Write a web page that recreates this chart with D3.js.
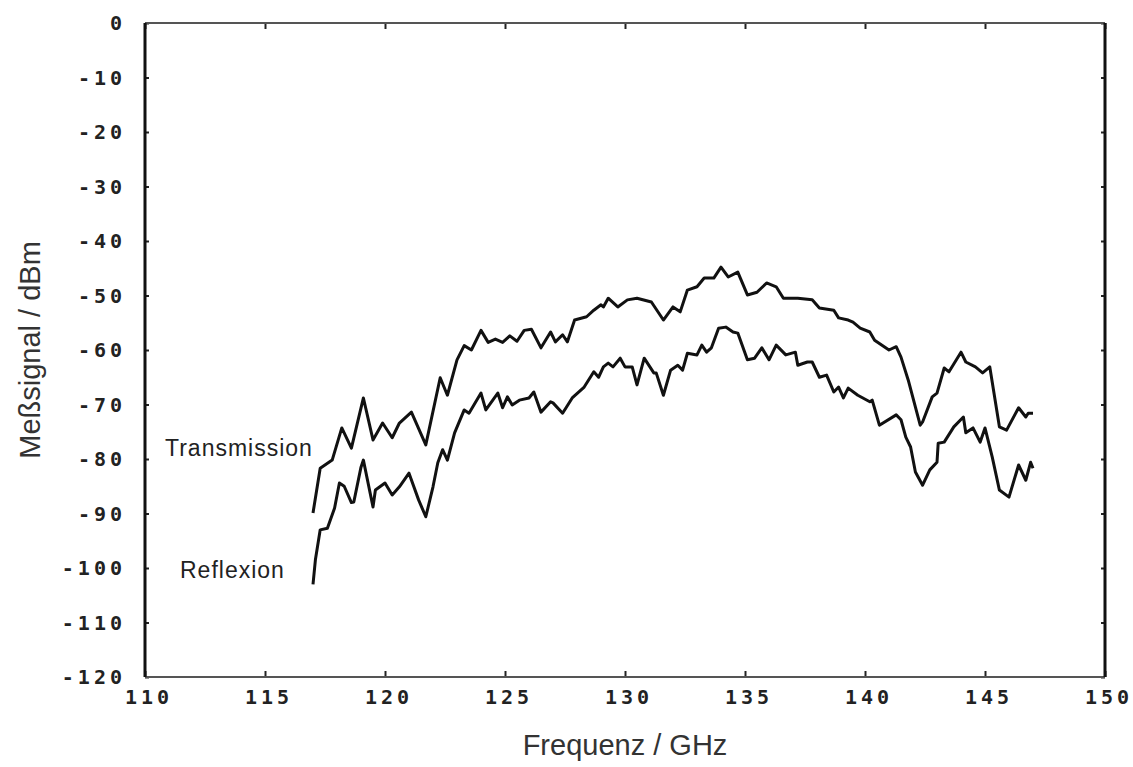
<!DOCTYPE html>
<html>
<head>
<meta charset="utf-8">
<script src="https://cdn.jsdelivr.net/npm/d3@7"></script>
<style>
  html, body { margin: 0; padding: 0; background: #fff; }
  svg { display: block; }
  .tick-label { font-family: "DejaVu Sans Mono", monospace; font-weight: bold; font-size: 20px; fill: #222; }
  .title { font-family: "Liberation Sans", Arial, sans-serif; font-size: 29px; fill: #333; }
  .series-label { font-family: "Liberation Sans", Arial, sans-serif; font-size: 23px; letter-spacing: 1px; fill: #222; }
</style>
</head>
<body>
<svg id="chart" width="1133" height="767"></svg>
<script>
// Measured signal vs. frequency, two traces.
const transFreq = [117.0, 117.3, 117.8, 118.2, 118.6, 119.1, 119.5, 119.9, 120.3, 120.6, 121.1, 121.7, 122.3, 122.6, 123.0,
  123.3, 123.6, 124.0, 124.3, 124.6, 124.9, 125.2, 125.5, 125.8, 126.1, 126.5, 126.9, 127.1, 127.4, 127.6, 127.9,
  128.4, 128.7, 129.0, 129.1, 129.3, 129.7, 130.1, 130.5, 131.1, 131.6, 132.0, 132.3, 132.6, 133.0, 133.3, 133.7,
  134.0, 134.3, 134.7, 135.1, 135.5, 135.9, 136.3, 136.6, 137.2, 137.8, 138.1, 138.7, 138.9, 139.3, 139.5, 139.8,
  140.2, 140.4, 141.0, 141.3, 141.5, 141.8, 142.3, 142.4, 142.8, 143.0, 143.3, 143.5, 144.0, 144.2, 144.6, 144.9,
  145.2, 145.6, 145.9, 146.4, 146.7, 146.8, 147.0];
const transValues = [-89.9, -81.7, -80.2, -74.3, -78.0, -68.8, -76.5, -73.4, -76.1, -73.4, -71.4, -77.4, -65.1, -68.3, -61.8,
  -59.2, -60.0, -56.4, -58.6, -58.0, -58.6, -57.4, -58.4, -56.4, -56.2, -59.6, -56.7, -58.5, -57.2, -58.5, -54.5,
  -53.9, -52.7, -51.7, -52.1, -50.5, -52.1, -50.8, -50.5, -51.2, -54.5, -52.1, -53.0, -49.0, -48.4, -46.8, -46.8,
  -44.8, -46.6, -45.7, -49.9, -49.4, -47.7, -48.4, -50.5, -50.5, -50.8, -52.3, -52.7, -54.1, -54.5, -54.9, -56.0,
  -56.7, -58.2, -60.0, -59.4, -61.3, -65.5, -73.8, -73.2, -68.6, -67.9, -63.3, -64.0, -60.4, -62.2, -63.1, -64.2,
  -63.1, -74.1, -74.7, -70.6, -72.3, -71.6, -71.6];

const reflFreq = [117.0, 117.1, 117.3, 117.6, 117.9, 118.1, 118.3, 118.6, 118.7, 119.0, 119.1, 119.5, 119.6, 120.0, 120.3,
  120.6, 121.0, 121.4, 121.7, 122.0, 122.2, 122.4, 122.6, 122.9, 123.3, 123.5, 124.0, 124.2, 124.7, 124.9, 125.1,
  125.3, 125.6, 126.0, 126.2, 126.5, 126.9, 127.0, 127.4, 127.8, 128.3, 128.7, 128.9, 129.1, 129.3, 129.5, 129.8,
  130.0, 130.3, 130.5, 130.8, 131.2, 131.3, 131.6, 131.9, 132.2, 132.4, 132.6, 133.0, 133.2, 133.4, 133.6, 133.9,
  134.2, 134.5, 134.7, 135.1, 135.4, 135.7, 136.0, 136.3, 136.7, 137.1, 137.2, 137.6, 137.8, 138.1, 138.4, 138.7,
  138.9, 139.1, 139.3, 139.7, 140.2, 140.3, 140.6, 141.3, 141.5, 141.7, 141.9, 142.1, 142.4, 142.7, 143.0, 143.05,
  143.3, 143.7, 144.1, 144.2, 144.5, 144.8, 145.0, 145.3, 145.6, 146.0, 146.4, 146.7, 146.9, 147.0];
const reflValues = [-103.0, -98.5, -93.0, -92.7, -89.0, -84.4, -85.0, -88.0, -87.9, -81.5, -80.2, -88.8, -85.7, -84.4, -86.6,
  -85.1, -82.6, -87.5, -90.6, -85.1, -80.7, -78.3, -80.2, -75.2, -71.0, -71.6, -67.9, -71.0, -67.9, -70.6, -68.6,
  -70.1, -69.2, -68.8, -67.7, -71.4, -69.5, -69.7, -71.6, -68.8, -66.8, -64.0, -65.0, -63.1, -62.4, -63.1, -61.5,
  -63.1, -63.1, -66.4, -61.5, -64.2, -64.2, -68.3, -63.7, -62.8, -63.7, -60.6, -60.9, -59.1, -60.4, -59.6, -56.0,
  -55.8, -56.7, -56.9, -61.8, -61.5, -59.6, -61.8, -59.1, -60.9, -60.4, -62.8, -62.2, -62.2, -65.0, -64.6, -67.7,
  -66.8, -68.8, -67.0, -68.3, -69.5, -69.2, -73.8, -71.9, -72.8, -76.0, -77.8, -82.4, -84.8, -82.0, -80.6, -77.1,
  -76.9, -74.1, -72.3, -75.2, -74.3, -76.9, -74.3, -79.6, -85.7, -87.0, -81.1, -83.9, -80.6, -81.7];

const xTicks = [110, 115, 120, 125, 130, 135, 140, 145, 150];
const yTicks = [0, -10, -20, -30, -40, -50, -60, -70, -80, -90, -100, -110, -120];
const seriesNames = ["Transmission", "Reflexion"];
const xTitle = "Frequenz / GHz";
const yTitle = "Meßsignal / dBm";

const svg = d3.select("#chart");
const margin = { left: 145, right: 1105, top: 23, bottom: 677 };

const x = d3.scaleLinear().domain([110, 150]).range([margin.left, margin.right]);
const y = d3.scaleLinear().domain([-120, 0]).range([margin.bottom, margin.top]);

svg.append("rect").attr("width", 1133).attr("height", 767).attr("fill", "#fff");

// Inward ticks on all four sides
const axisG = svg.append("g");
axisG.append("g").attr("transform", `translate(0,${margin.bottom})`)
  .call(d3.axisTop(x).tickValues(xTicks).tickSize(6).tickFormat(""));
axisG.append("g").attr("transform", `translate(0,${margin.top})`)
  .call(d3.axisBottom(x).tickValues(xTicks).tickSize(6).tickFormat(""));
axisG.append("g").attr("transform", `translate(${margin.left},0)`)
  .call(d3.axisRight(y).tickValues(yTicks).tickSize(4).tickFormat(""));
axisG.append("g").attr("transform", `translate(${margin.right},0)`)
  .call(d3.axisLeft(y).tickValues(yTicks).tickSize(4).tickFormat(""));
axisG.selectAll(".domain").remove();
axisG.selectAll(".tick line").attr("stroke", "#222").attr("stroke-width", 2);

// Frame: heavy verticals, lighter horizontals
svg.append("line").attr("x1", margin.left).attr("x2", margin.right).attr("y1", margin.top).attr("y2", margin.top)
  .attr("stroke", "#555").attr("stroke-width", 2);
svg.append("line").attr("x1", margin.left).attr("x2", margin.right).attr("y1", margin.bottom).attr("y2", margin.bottom)
  .attr("stroke", "#555").attr("stroke-width", 2);
svg.append("line").attr("x1", margin.left).attr("x2", margin.left).attr("y1", margin.top).attr("y2", margin.bottom)
  .attr("stroke", "#111").attr("stroke-width", 3);
svg.append("line").attr("x1", margin.right).attr("x2", margin.right).attr("y1", margin.top).attr("y2", margin.bottom)
  .attr("stroke", "#111").attr("stroke-width", 3);

// Tick labels
const ls = 4;
svg.append("g").selectAll("text").data(xTicks).join("text")
  .attr("class", "tick-label")
  .attr("x", d => x(d) + ls / 2 + 2)
  .attr("y", 704)
  .attr("text-anchor", "middle")
  .attr("letter-spacing", ls)
  .text(d => d);
svg.append("g").selectAll("text").data(yTicks).join("text")
  .attr("class", "tick-label")
  .attr("x", 122 + ls)
  .attr("y", d => y(d) + 7)
  .attr("text-anchor", "end")
  .attr("letter-spacing", ls)
  .text(d => d);

// Axis titles
svg.append("text").attr("class", "title")
  .attr("x", (margin.left + margin.right) / 2).attr("y", 755)
  .attr("text-anchor", "middle").text(xTitle);
svg.append("text").attr("class", "title")
  .attr("transform", `translate(40,${(margin.top + margin.bottom) / 2}) rotate(-90)`)
  .attr("text-anchor", "middle").text(yTitle);

// Traces
const line = d3.line().x(d => x(d[0])).y(d => y(d[1]));
const traces = [d3.zip(transFreq, transValues), d3.zip(reflFreq, reflValues)];
svg.append("g").selectAll("path").data(traces).join("path")
  .attr("d", line)
  .attr("fill", "none")
  .attr("stroke", "#111")
  .attr("stroke-width", 3)
  .attr("stroke-linejoin", "round");

// Trace labels
svg.append("text").attr("class", "series-label").attr("x", 165).attr("y", 456).text(seriesNames[0]);
svg.append("text").attr("class", "series-label").attr("x", 180).attr("y", 578).text(seriesNames[1]);
</script>
</body>
</html>
